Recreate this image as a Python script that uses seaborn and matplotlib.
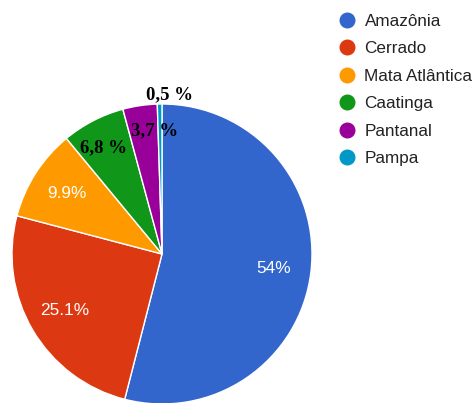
import matplotlib
matplotlib.use("Agg")
import matplotlib.pyplot as plt
from matplotlib.lines import Line2D
import numpy as np
import seaborn as sns

# dados: biomas do Brasil (% da área)
biomas = ['Amazônia', 'Cerrado', 'Mata Atlântica', 'Caatinga', 'Pantanal', 'Pampa']
valores = [54.0, 25.1, 9.9, 6.8, 3.7, 0.5]
rotulos = ['54%', '25.1%', '9.9%', '', '', '']
# rótulos extras escritos à mão sobre o gráfico
rotulos_extra = ['6,8 %', '3,7 %', '0,5 %']
pos_extra = [(-0.39, 0.71), (-0.05, 0.82), (0.05, 1.06)]

sns.set_theme(style='white')
plt.rcParams['font.family'] = ['Liberation Sans', 'DejaVu Sans']
cores = sns.color_palette(['#3366cc', '#dc3912', '#ff9900', '#109618', '#990099', '#0099c6'])

fig = plt.figure(figsize=(4.75, 4.03), dpi=100)
ax = fig.add_axes([12 / 475, -1 / 403, 300 / 475, 300 / 403])

ax.pie(valores, colors=cores, startangle=90, counterclock=False,
       wedgeprops=dict(edgecolor='white', linewidth=1))

# rótulos brancos dentro das fatias
total = sum(valores)
inicio = 90.0
for v, r in zip(valores, rotulos):
    meio = inicio - v / total * 180
    inicio -= v / total * 360
    if r:
        ang = np.deg2rad(meio)
        ax.text(0.75 * np.cos(ang), 0.75 * np.sin(ang), r, color='white',
                fontsize=12.4, ha='center', va='center')

for t, (x, y) in zip(rotulos_extra, pos_extra):
    ax.text(x, y, t, fontsize=13.5, fontweight='bold',
            family=['Liberation Serif', 'DejaVu Serif'],
            color='black', ha='center', va='center')

ax.set_xlim(-1, 1)
ax.set_ylim(-1, 1)
ax.set_aspect('equal')
ax.axis('off')

alcas = [Line2D([], [], marker='o', ls='', markersize=10.5, color=c) for c in cores]
fig.legend(alcas, biomas, loc='upper left', bbox_to_anchor=(338 / 475, 1 - 14 / 403),
           frameon=False, fontsize=12.3, labelspacing=0.73, handlelength=1.0,
           handletextpad=0.55, borderaxespad=0, borderpad=0, labelcolor='#222222')

fig.savefig('out.png', dpi=100)
